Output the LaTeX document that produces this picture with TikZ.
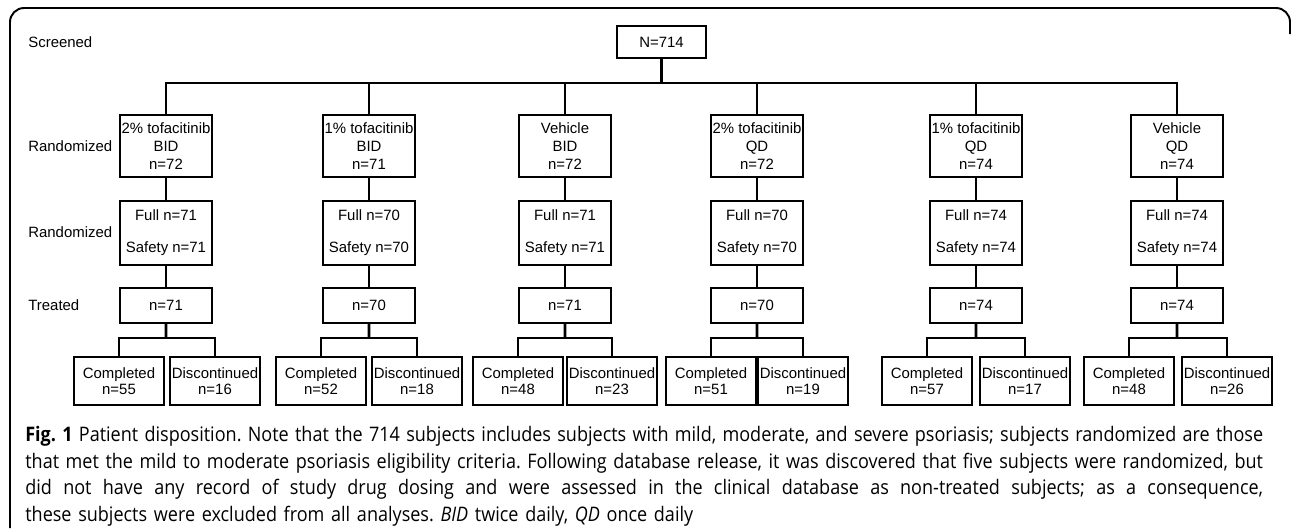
\documentclass[tikz,border=0pt]{standalone}
\usepackage{fontspec}
\newfontfamily\diafont{Liberation Sans}
\newfontfamily\capfont[FakeStretch=0.9]{Open Sans}
\usetikzlibrary{positioning,calc}
\newcommand{\capline}[1]{\hbox to 24.76cm{\spaceskip=.26em plus 2em minus .05em\relax #1}}
\tikzset{
  flowbox/.style={rectangle, draw=black, line width=0.9pt, align=center,
                  inner sep=1pt, font=\diafont\fontsize{8.5}{10.2}\selectfont},
  armbox/.style ={flowbox, minimum width=1.84cm, minimum height=1.24cm},
  setbox/.style ={flowbox, minimum width=1.84cm, minimum height=1.28cm},
  trtbox/.style ={flowbox, minimum width=1.84cm, minimum height=0.70cm},
  endbox/.style ={flowbox, minimum width=1.80cm, minimum height=0.96cm,
                  font=\diafont\fontsize{8.5}{9.2}\selectfont},
  stage/.style  ={anchor=west, inner sep=0pt,
                  font=\diafont\fontsize{8.5}{10.2}\selectfont},
  conn/.style   ={line width=1.5pt},
  panel/.style  ={line width=1.1pt, rounded corners=8pt},
}

\begin{document}
\begin{tikzpicture}[x=0.02cm, y=-0.02cm]
  \useasboundingbox (0,0) rectangle (1292,528);
  % outer panel
  \draw[panel] (10,528) -- (10,8) -- (1290,8) -- (1290,34);

  % stage labels
  \node[stage] (lscr) at (28,42)  {Screened};
  \node[stage] (lran) at (28,146) {Randomized};
  \node[stage] (lset) at (28,232) {Randomized};
  \node[stage] (ltrt) at (28,305) {Treated};

  % screened
  \node[flowbox, minimum width=1.78cm, minimum height=0.64cm] (top) at (661.5,42) {N=714};
  \coordinate (bus) at (661.5,83);

  % arm 1
  \node[armbox] (a1) at (166,146)   {2\% tofacitinib\\BID\\n=72};
  \node[setbox] (f1) at (166,233)   {Full n=71\\[8pt]Safety n=71};
  \node[trtbox] (t1) at (166,305.5) {n=71};
  \node[endbox] (c1) at (119,381)   {Completed\\n=55};
  \node[endbox] (d1) at (215,381)   {Discontinued\\n=16};
  % arm 2
  \node[armbox] (a2) at (369,146)   {1\% tofacitinib\\BID\\n=71};
  \node[setbox] (f2) at (369,233)   {Full n=70\\[8pt]Safety n=70};
  \node[trtbox] (t2) at (369,305.5) {n=70};
  \node[endbox] (c2) at (321,381)   {Completed\\n=52};
  \node[endbox] (d2) at (417,381)   {Discontinued\\n=18};
  % arm 3
  \node[armbox] (a3) at (565,146)   {Vehicle\\BID\\n=72};
  \node[setbox] (f3) at (565,233)   {Full n=71\\[8pt]Safety n=71};
  \node[trtbox] (t3) at (565,305.5) {n=71};
  \node[endbox] (c3) at (518,381)   {Completed\\n=48};
  \node[endbox] (d3) at (612,381)   {Discontinued\\n=23};
  % arm 4
  \node[armbox] (a4) at (757,146)   {2\% tofacitinib\\QD\\n=72};
  \node[setbox] (f4) at (757,233)   {Full n=70\\[8pt]Safety n=70};
  \node[trtbox] (t4) at (757,305.5) {n=70};
  \node[endbox] (c4) at (711,381)   {Completed\\n=51};
  \node[endbox] (d4) at (803,381)   {Discontinued\\n=19};
  % arm 5
  \node[armbox] (a5) at (976,146)   {1\% tofacitinib\\QD\\n=74};
  \node[setbox] (f5) at (976,233)   {Full n=74\\[8pt]Safety n=74};
  \node[trtbox] (t5) at (976,305.5) {n=74};
  \node[endbox] (c5) at (927,381)   {Completed\\n=57};
  \node[endbox] (d5) at (1025,381)  {Discontinued\\n=17};
  % arm 6
  \node[armbox] (a6) at (1177,146)  {Vehicle\\QD\\n=74};
  \node[setbox] (f6) at (1177,233)  {Full n=74\\[8pt]Safety n=74};
  \node[trtbox] (t6) at (1177,305.5) {n=74};
  \node[endbox] (c6) at (1129,381)  {Completed\\n=48};
  \node[endbox] (d6) at (1227,381)  {Discontinued\\n=26};

  % connectors
  \draw[conn] (top) -- (bus);
  \foreach \i in {1,...,6}{
    \draw[conn] (bus) -| (a\i.north);
    \draw[conn] (a\i) -- (f\i);
    \draw[conn] (f\i) -- (t\i);
    \coordinate (s\i) at ($(t\i.south)!.44!(t\i.south |- c\i.north)$);
    \draw[conn] (t\i.south) -- (s\i);
    \draw[conn] (c\i.north) |- (s\i) -| (d\i.north);
  }

  % caption
  \node[anchor=north west, inner sep=0pt, text width=24.76cm,
        font=\capfont\fontsize{11.4}{15.2}\selectfont] (cap) at (25,426) {%
    \frenchspacing
    \capline{\textbf{Fig. 1} Patient disposition. Note that the 714 subjects includes subjects with mild, moderate, and severe psoriasis; subjects randomized are those}
    \capline{that met the mild to moderate psoriasis eligibility criteria. Following database release, it was discovered that five subjects were randomized, but}
    \capline{did not have any record of study drug dosing and were assessed in the clinical database as non-treated subjects; as a consequence,}
    \hbox{these subjects were excluded from all analyses. \textit{BID} twice daily, \textit{QD} once daily}};
\end{tikzpicture}
\end{document}
